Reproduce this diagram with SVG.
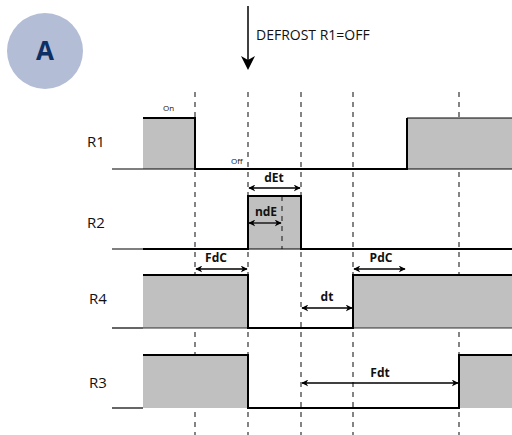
<svg xmlns="http://www.w3.org/2000/svg" width="512" height="435" viewBox="0 0 512 435">
<style>
.dash{stroke:#333;stroke-width:1.2;stroke-dasharray:5,5;fill:none}
.fill{fill:#c0c0c0;stroke:none}
.sig{stroke:#000;stroke-width:2;fill:none}
.base{stroke:#000;stroke-width:1.2;fill:none}
.arr{stroke:#000;stroke-width:1.3;fill:none;marker-start:url(#ah);marker-end:url(#ah)}
.lbl{font-family:'Open Sans','DejaVu Sans',sans-serif;font-size:14px;fill:#111}
.rl{font-family:'Open Sans','DejaVu Sans',sans-serif;font-size:15px;fill:#111}
.b{font-family:'Open Sans','DejaVu Sans',sans-serif;font-size:12px;font-weight:bold;fill:#111;text-anchor:middle}
.s{font-family:'Open Sans','DejaVu Sans',sans-serif;font-size:8px;fill:#111}
</style>
<defs>
<marker id="ah" viewBox="0 0 10 10" refX="9" refY="5" markerWidth="7" markerHeight="7" orient="auto-start-reverse" markerUnits="userSpaceOnUse">
<path d="M0,0 L10,5 L0,10 L3,5 Z" fill="#000"/>
</marker>
</defs>
<rect width="512" height="435" fill="#fff"/>
<g id="badge">
<circle cx="45" cy="51" r="38" fill="#b3bdd6"/>
<text x="45" y="60" font-family="'Open Sans','DejaVu Sans',sans-serif" font-size="26" font-weight="bold" fill="#0d2f63" text-anchor="middle">A</text>
</g>
<g id="grid">
<line class="dash" x1="195" y1="92" x2="195" y2="435"/>
<line class="dash" x1="248" y1="92" x2="248" y2="435"/>
<line class="dash" x1="301" y1="92" x2="301" y2="435"/>
<line class="dash" x1="353" y1="92" x2="353" y2="435"/>
<line class="dash" x1="459" y1="92" x2="459" y2="435"/>
</g>
<g id="defrost">
<line x1="248" y1="6" x2="248" y2="60" stroke="#000" stroke-width="1.5"/>
<path d="M241,56 L248,70 L255,56 L248,60 Z" fill="#000"/>
<text class="lbl" x="256" y="40">DEFROST R1=OFF</text>
</g>
<g id="R1">
<text class="rl" x="87" y="147">R1</text>
<rect class="fill" x="143" y="118" width="52" height="51"/>
<rect class="fill" x="407" y="118" width="105" height="51"/>
<line class="base" x1="112" y1="169" x2="512" y2="169"/>
<path class="sig" d="M143,118 H195 V169 H407 V118"/>
<line x1="407" y1="118" x2="512" y2="118" stroke="#000" stroke-width="1"/>
<text class="s" x="163" y="111">On</text>
<text class="s" x="231" y="164">Off</text>
</g>
<g id="R2">
<text class="rl" x="87" y="228">R2</text>
<rect class="fill" x="248" y="196" width="53" height="53"/>
<line class="dash" x1="282" y1="196" x2="282" y2="249"/>
<line class="base" x1="112" y1="249" x2="512" y2="249"/>
<path class="sig" d="M143,249 H248 V196 H301 V249 H512"/>
<text class="b" x="274" y="182">dEt</text>
<line class="arr" x1="249" y1="188" x2="300" y2="188"/>
<text class="b" x="266" y="216">ndE</text>
<line class="arr" x1="249" y1="223" x2="281" y2="223"/>
</g>
<g id="R4">
<text class="rl" x="89" y="304">R4</text>
<rect class="fill" x="143" y="275" width="105" height="53"/>
<rect class="fill" x="353" y="275" width="159" height="53"/>
<line class="base" x1="112" y1="328" x2="143" y2="328"/>
<path class="sig" d="M143,275 H248 V328 H353 V275 H512"/>
<line x1="143" y1="328" x2="512" y2="328" stroke="#000" stroke-width="0.8"/>
<text class="b" x="216" y="262">FdC</text>
<line class="arr" x1="196" y1="269" x2="247" y2="269"/>
<text class="b" x="381" y="262">PdC</text>
<line class="arr" x1="354" y1="269" x2="405" y2="269"/>
<text class="b" x="327" y="301">dt</text>
<line class="arr" x1="302" y1="308" x2="352" y2="308"/>
</g>
<g id="R3">
<text class="rl" x="89" y="388">R3</text>
<rect class="fill" x="143" y="355" width="105" height="53"/>
<rect class="fill" x="459" y="355" width="53" height="53"/>
<line class="base" x1="112" y1="408" x2="143" y2="408"/>
<path class="sig" d="M143,355 H248 V408 H459 V355 H512"/>
<text class="b" x="380" y="377">Fdt</text>
<line class="arr" x1="302" y1="383" x2="458" y2="383"/>
</g>
</svg>
